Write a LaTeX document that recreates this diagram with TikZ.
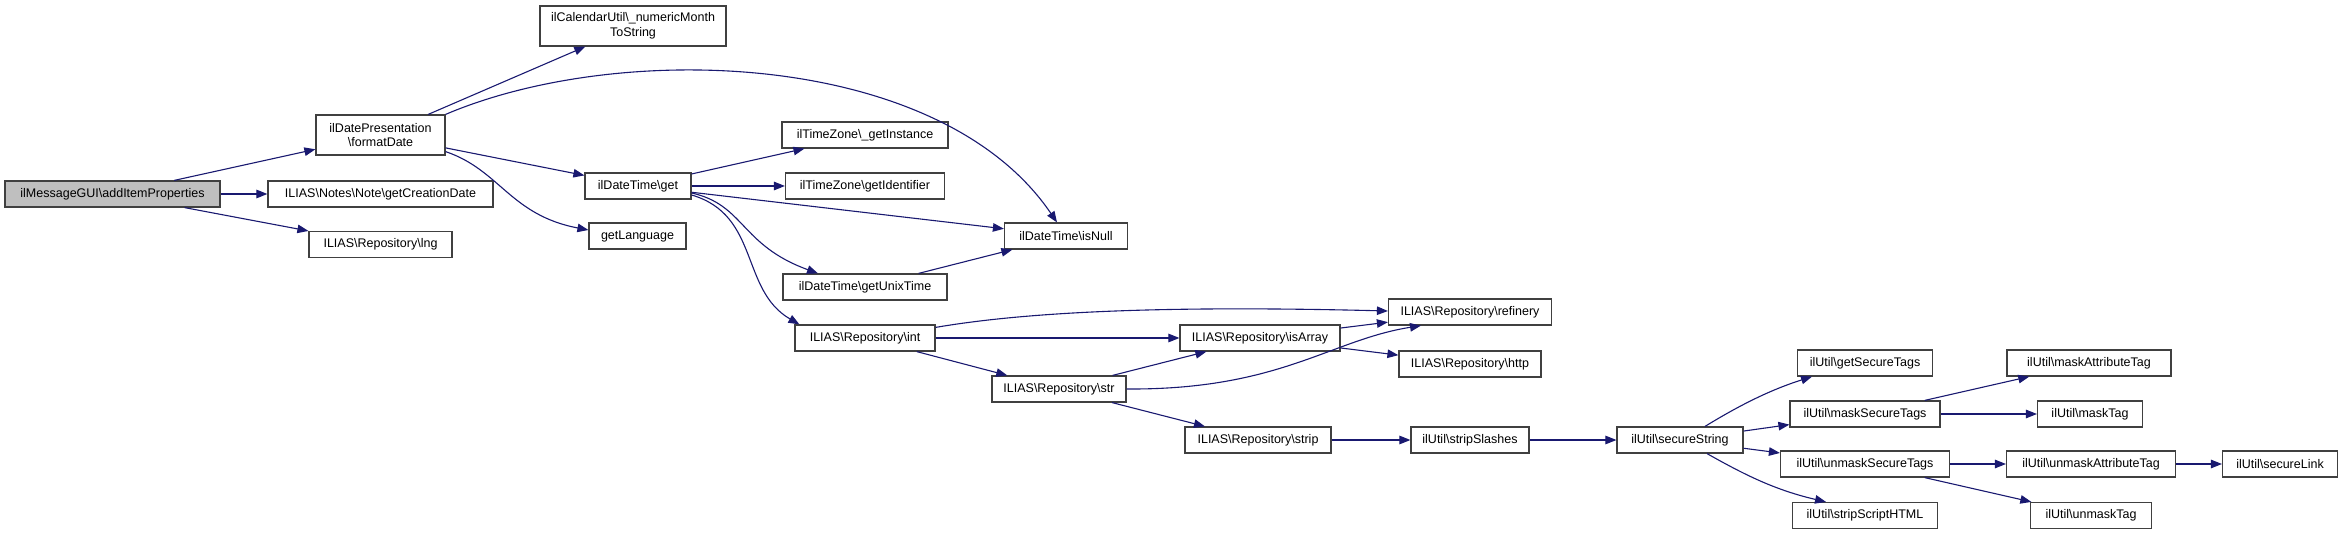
\documentclass[tikz,border=0pt]{standalone}
\usepackage{fontspec}
\setmainfont{Liberation Sans}
\usetikzlibrary{arrows.meta}
\definecolor{edgec}{HTML}{191970}
\definecolor{boxc}{HTML}{404040}
\definecolor{rootc}{HTML}{BFBFBF}
\begin{document}
\begin{tikzpicture}[x=1pt,y=1pt,
  fn/.style={draw=boxc, line width=1.2pt, fill=white, rectangle, inner sep=0pt,
    minimum height=26pt, align=center, font=\fontsize{12.5}{14.5}\selectfont},
  tall/.style={minimum height=40pt},
  call/.style={draw=edgec, line width=1.1pt, -{Triangle[length=11pt,width=8.5pt]}},
]
\useasboundingbox (0,0) rectangle (2344,-534);
\node[fn, fill=rootc, minimum width=215pt] (aip) at (112.5,-194) {ilMessageGUI\textbackslash addItemProperties};
\node[fn, tall, minimum width=129pt] (fd) at (380.5,-135) {ilDatePresentation\\\textbackslash formatDate};
\node[fn, minimum width=225pt] (gcd) at (380.5,-194) {ILIAS\textbackslash Notes\textbackslash Note\textbackslash getCreationDate};
\node[fn, minimum width=143pt] (lng) at (380.5,-244.5) {ILIAS\textbackslash Repository\textbackslash lng};
\node[fn, tall, minimum width=186pt] (cal) at (633,-26) {ilCalendarUtil\textbackslash\_numericMonth\\ToString};
\node[fn, minimum width=106pt] (get) at (638,-186) {ilDateTime\textbackslash get};
\node[fn, minimum width=97pt] (gl) at (637.5,-236) {getLanguage};
\node[fn, minimum width=166pt] (gi) at (865,-135) {ilTimeZone\textbackslash\_getInstance};
\node[fn, minimum width=159pt] (gid) at (865,-186) {ilTimeZone\textbackslash getIdentifier};
\node[fn, minimum width=164pt] (gut) at (865,-287) {ilDateTime\textbackslash getUnixTime};
\node[fn, minimum width=140pt] (int) at (865,-338) {ILIAS\textbackslash Repository\textbackslash int};
\node[fn, minimum width=123pt] (isn) at (1066,-236) {ilDateTime\textbackslash isNull};
\node[fn, minimum width=134pt] (str) at (1059,-389) {ILIAS\textbackslash Repository\textbackslash str};
\node[fn, minimum width=160pt] (isa) at (1260,-338) {ILIAS\textbackslash Repository\textbackslash isArray};
\node[fn, minimum width=146pt] (strip) at (1258,-440) {ILIAS\textbackslash Repository\textbackslash strip};
\node[fn, minimum width=163pt] (ref) at (1470,-312) {ILIAS\textbackslash Repository\textbackslash refinery};
\node[fn, minimum width=142pt] (http) at (1470,-364) {ILIAS\textbackslash Repository\textbackslash http};
\node[fn, minimum width=118pt] (ssl) at (1470,-440) {ilUtil\textbackslash stripSlashes};
\node[fn, minimum width=126pt] (ss) at (1680,-440) {ilUtil\textbackslash secureString};
\node[fn, minimum width=135pt] (gst) at (1865,-363) {ilUtil\textbackslash getSecureTags};
\node[fn, minimum width=150pt] (mst) at (1865,-414) {ilUtil\textbackslash maskSecureTags};
\node[fn, minimum width=169pt] (ust) at (1865,-464) {ilUtil\textbackslash unmaskSecureTags};
\node[fn, minimum width=145pt] (ssh) at (1865,-515.5) {ilUtil\textbackslash stripScriptHTML};
\node[fn, minimum width=164pt] (mat) at (2089,-363) {ilUtil\textbackslash maskAttributeTag};
\node[fn, minimum width=105pt] (mt) at (2090,-414) {ilUtil\textbackslash maskTag};
\node[fn, minimum width=169pt] (uat) at (2091,-464) {ilUtil\textbackslash unmaskAttributeTag};
\node[fn, minimum width=121pt] (ut) at (2091,-515.5) {ilUtil\textbackslash unmaskTag};
\node[fn, minimum width=115pt] (sl) at (2280,-464) {ilUtil\textbackslash secureLink};

\draw[call] (aip) -- (fd);
\draw[call] (aip) -- (gcd);
\draw[call] (aip) -- (lng);
\draw[call] (fd) -- (cal);
\draw[call] (fd.north east) .. controls (620,-40) and (940,-50) .. ([xshift=-9pt]isn.north);
\draw[call] (fd) -- (get);
\draw[call] ([yshift=4pt]fd.south east) .. controls (500,-170) and (510,-215) .. ([yshift=6pt]gl.west);
\draw[call] (get) -- (gi);
\draw[call] (get) -- (gid);
\draw[call] (get) -- (isn);
\draw[call] ([yshift=-7pt]get.east) .. controls (745,-205) and (740,-245) .. ([xshift=-47pt]gut.north);
\draw[call] ([yshift=-9pt]get.east) .. controls (760,-215) and (740,-290) .. ([xshift=5pt]int.north west);
\draw[call] (gut) -- (isn);
\draw[call] ([yshift=-3pt]int.north east) .. controls (1020,-313) and (1150,-305) .. ([yshift=1pt]ref.west);
\draw[call] (int) -- (isa);
\draw[call] (int) -- (str);
\draw[call] (isa) -- (ref);
\draw[call] (isa) -- (http);
\draw[call] (str) -- (isa);
\draw[call] (str.east) .. controls (1280,-390) and (1330,-340) .. ([xshift=-49pt]ref.south);
\draw[call] (str) -- (strip);
\draw[call] (strip) -- (ssl);
\draw[call] (ssl) -- (ss);
\draw[call] ([xshift=25pt]ss.north) .. controls (1740,-405) and (1770,-390) .. ([xshift=-53pt]gst.south);
\draw[call] (ss) -- (mst);
\draw[call] (ss) -- (ust);
\draw[call] ([xshift=27pt]ss.south) .. controls (1745,-475) and (1775,-490) .. ([xshift=-39pt]ssh.north);
\draw[call] (mst) -- (mat);
\draw[call] (mst) -- (mt);
\draw[call] (ust) -- (uat);
\draw[call] (ust) -- (ut);
\draw[call] (uat) -- (sl);
\end{tikzpicture}
\end{document}
